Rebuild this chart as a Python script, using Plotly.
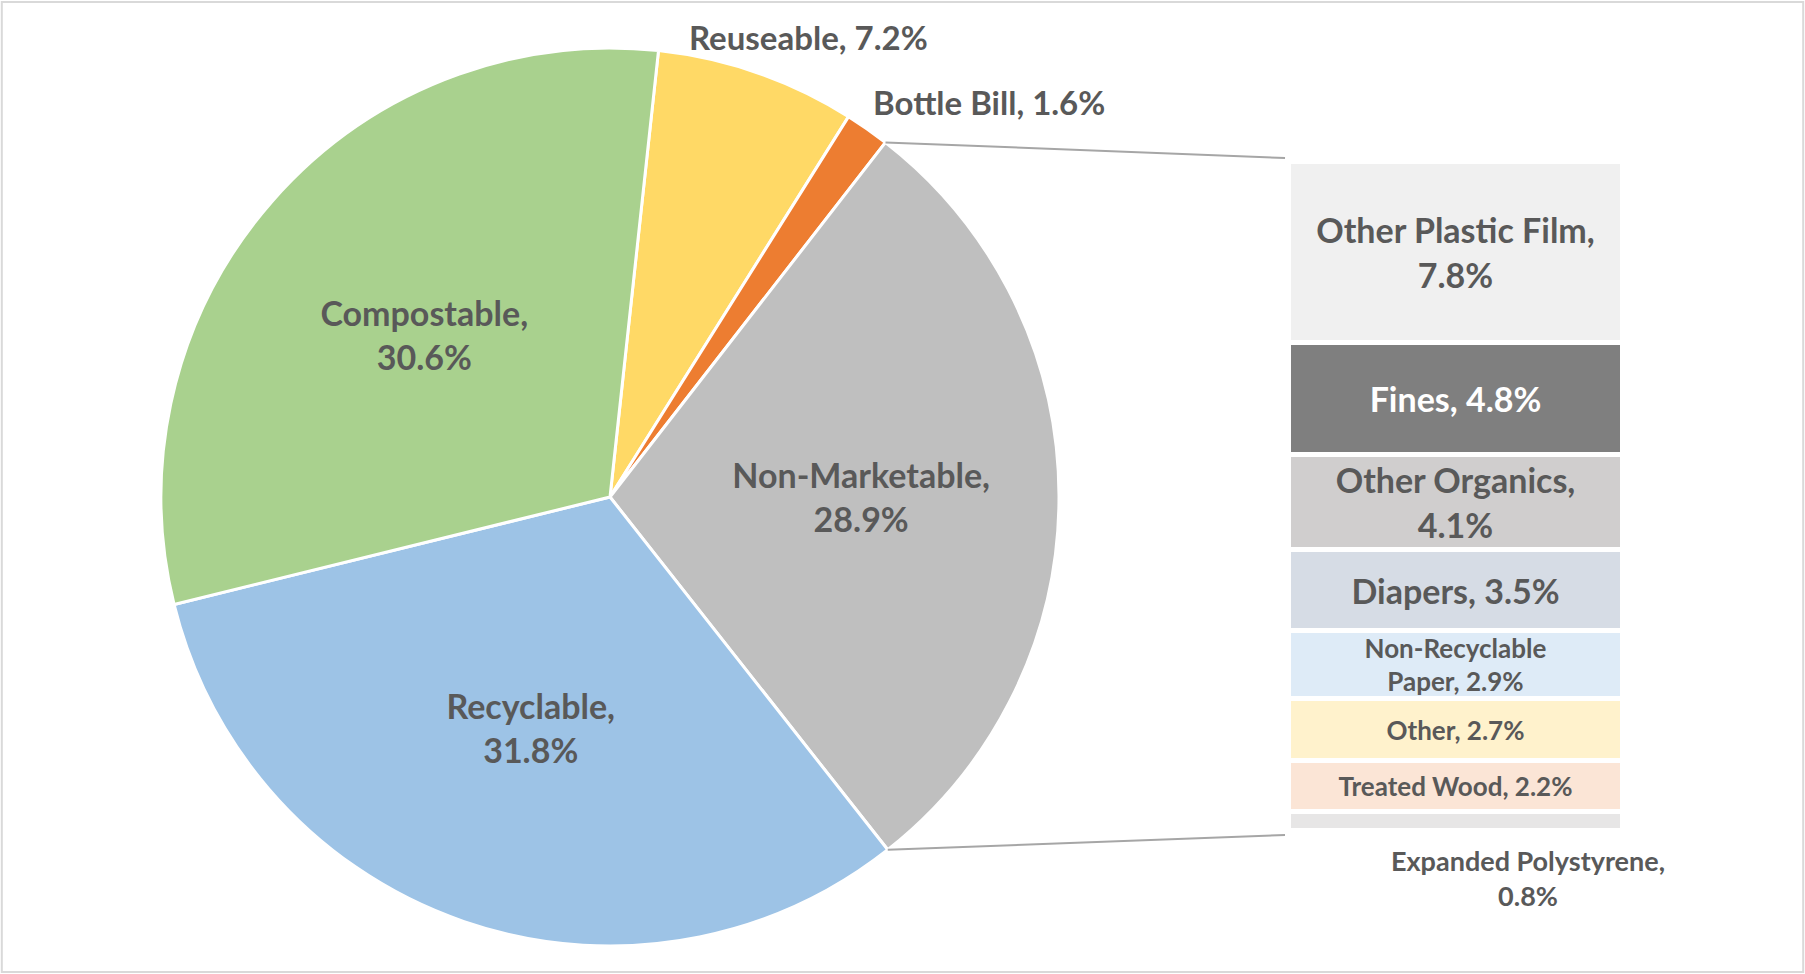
import math
import plotly.graph_objects as go

# ---- data ----
pie_labels = ["Reuseable", "Bottle Bill", "Non-Marketable", "Recyclable", "Compostable"]
pie_values = [7.2, 1.6, 28.9, 31.8, 30.6]
pie_colors = ["#FFD966", "#ED7D31", "#BFBFBF", "#9DC3E6", "#A9D18E"]
pie_inside = [False, False, True, True, True]

# bar-of-pie column (bottom -> top)
bar_labels = ["Expanded Polystyrene", "Treated Wood", "Other", "Non-Recyclable Paper",
              "Diapers", "Other Organics", "Fines", "Other Plastic Film"]
bar_values = [0.8, 2.2, 2.7, 2.9, 3.5, 4.1, 4.8, 7.8]
bar_colors = ["#E7E6E6", "#FBE5D6", "#FFF2CC", "#DEEBF7", "#D6DCE5", "#D0CECE", "#7F7F7F", "#F0F0F0"]
bar_text_labels = ["Expanded Polystyrene,<br>", "Treated Wood, ", "Other, ", "Non-Recyclable<br>Paper, ",
                   "Diapers, ", "Other Organics,<br>", "Fines, ", "Other Plastic Film,<br>"]
bar_font_sizes = [27, 26, 26, 26, 34, 34, 34, 34]
bar_font_colors = ["#595959"] * 6 + ["#FFFFFF", "#595959"]

W, H = 1805, 974
FONT = "Lato"
TXT = "#595959"

# ---- layout geometry (pixels) ----
pie_cx, pie_cy, pie_r = 610, 497, 449
bar_x0, bar_x1, bar_y0, bar_y1 = 1289, 1623, 162, 831
rotation = 6.2
# outside label anchors (left edge, vertical middle) for the two small slices
outside_pos = {"Reuseable": (687, 37), "Bottle Bill": (871, 102)}

fig = go.Figure()

texttemplates = []
for lab, ins in zip(pie_labels, pie_inside):
    texttemplates.append(lab + ",<br>%{value:.1f}%" if ins else "")

fig.add_trace(go.Pie(
    labels=pie_labels, values=pie_values, sort=False, direction="clockwise",
    rotation=rotation,
    marker=dict(colors=pie_colors, line=dict(color="white", width=3)),
    texttemplate=texttemplates,
    textposition=["inside" if i else "none" for i in pie_inside],
    insidetextorientation="horizontal",
    textfont=dict(family=FONT, size=34, color=TXT, weight="bold"),
    domain=dict(x=[(pie_cx - pie_r) / W, (pie_cx + pie_r) / W],
                y=[1 - (pie_cy + pie_r) / H, 1 - (pie_cy - pie_r) / H]),
    showlegend=False, hoverinfo="label+value",
))

for lab, val, ins in zip(pie_labels, pie_values, pie_inside):
    if not ins:
        x, y = outside_pos[lab]
        fig.add_annotation(xref="paper", yref="paper", x=x / W, y=1 - y / H,
                           xanchor="left", yanchor="middle", showarrow=False,
                           text=f"{lab}, {val:.1f}%",
                           font=dict(family=FONT, size=33, color=TXT, weight="bold"))

for lab, txt, val, col, fs, fc in zip(bar_labels, bar_text_labels, bar_values,
                                       bar_colors, bar_font_sizes, bar_font_colors):
    tt = "" if lab == "Expanded Polystyrene" else txt + "%{y:.1f}%"
    fig.add_trace(go.Bar(
        x=[0], y=[val], name=lab,
        marker=dict(color=col, line=dict(color="white", width=5)),
        texttemplate=tt, textposition="inside", insidetextanchor="middle",
        textangle=0, constraintext="none",
        insidetextfont=dict(family=FONT, size=fs, color=fc, weight="bold"),
        showlegend=False,
    ))

total_bar = sum(bar_values)

# label for the smallest segment, placed below the column
fig.add_annotation(
    xref="paper", yref="paper", x=1528 / W, y=1 - 878 / H,
    xanchor="center", yanchor="middle",
    text=f"{bar_text_labels[0]}{bar_values[0]:.1f}%", showarrow=False,
    font=dict(family=FONT, size=bar_font_sizes[0], color=TXT, weight="bold"), align="center",
)

# connector lines from the Non-Marketable slice edges to the column
tot = sum(pie_values)
cum_before = sum(pie_values[:2])
cum_after = sum(pie_values[:3])
a1 = math.radians(rotation + 360 * cum_before / tot)
a2 = math.radians(rotation + 360 * cum_after / tot)
p1 = (pie_cx + pie_r * math.sin(a1), pie_cy - pie_r * math.cos(a1))
p2 = (pie_cx + pie_r * math.sin(a2), pie_cy - pie_r * math.cos(a2))
for (px, py), ty in [(p1, bar_y0 - 4), (p2, bar_y1 + 4)]:
    fig.add_shape(type="line", xref="paper", yref="paper",
                  x0=px / W, y0=1 - py / H, x1=(bar_x0 - 4) / W, y1=1 - ty / H,
                  line=dict(color="#A6A6A6", width=2))

# chart frame
fig.add_shape(type="rect", xref="paper", yref="paper", x0=0.001, y0=0.002, x1=0.999, y1=0.998,
              line=dict(color="#D9D9D9", width=2))

fig.update_layout(
    width=W, height=H, margin=dict(l=0, r=0, t=0, b=0),
    paper_bgcolor="white", plot_bgcolor="white",
    barmode="stack", bargap=0,
    xaxis=dict(domain=[bar_x0 / W, bar_x1 / W], range=[-0.5, 0.5], visible=False, fixedrange=True),
    yaxis=dict(domain=[1 - bar_y1 / H, 1 - bar_y0 / H], range=[0, total_bar], visible=False, fixedrange=True),
)

fig.write_html("out.html", config={"displayModeBar": False},
               post_script="document.body.style.margin='0px';document.body.style.overflow='hidden';")
